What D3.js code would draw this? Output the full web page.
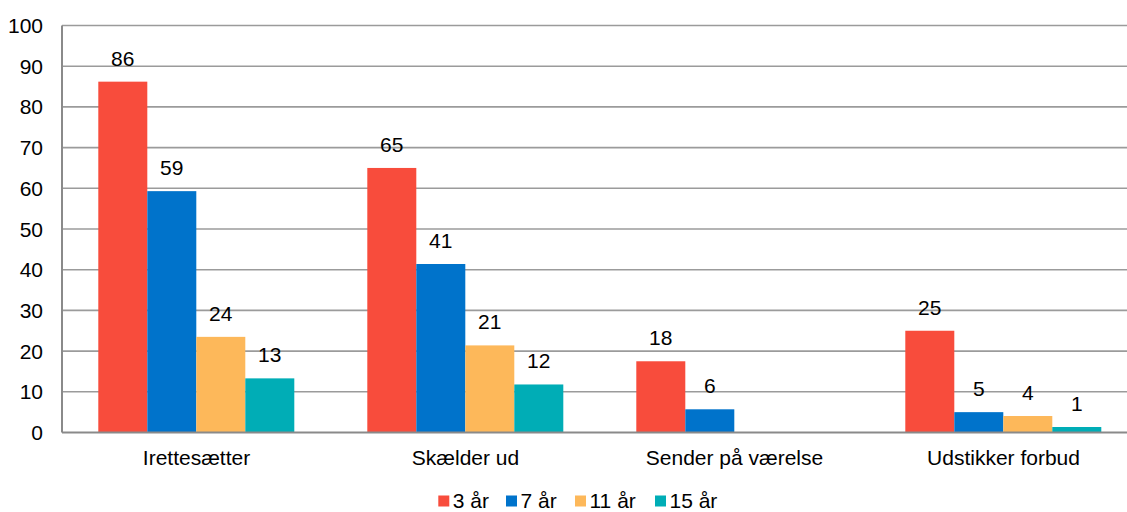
<!DOCTYPE html>
<html>
<head>
<meta charset="utf-8">
<script src="https://cdn.jsdelivr.net/npm/d3@7"></script>
<style>
  html, body { margin: 0; padding: 0; background: #fff; }
  svg { display: block; font-family: "Liberation Sans", Arial, sans-serif; }
</style>
</head>
<body>
<svg id="chart" width="1127" height="512"></svg>
<script>
const categories = ["Irettesætter", "Skælder ud", "Sender på værelse", "Udstikker forbud"];
const seriesNames = ["3 år", "7 år", "11 år", "15 år"];
const seriesColors = ["#F84C3C", "#0073CB", "#FDB85A", "#00ADB6"];
const values3 = [86.2, 65.0, 17.5, 25.0];
const values7 = [59.3, 41.4, 5.7, 5.0];
const values11 = [23.5, 21.4, null, 4.05];
const values15 = [13.3, 11.8, null, 1.35];
const yTicks = [0, 10, 20, 30, 40, 50, 60, 70, 80, 90, 100];

const seriesValues = [values3, values7, values11, values15];

const svg = d3.select("#chart");
const mLeft = 62, mTop = 25.5, mBottom = 432.5, band = 269;
const mRight = mLeft + band * categories.length;

const x = d3.scaleBand().domain(categories).range([mLeft, mRight]).padding(0);
const xs = d3.scaleBand().domain(seriesNames).range([36.3, 232.3]).padding(0);
const y = d3.scaleLinear().domain([0, 100]).range([mBottom, mTop]);

// gridlines
svg.append("g").selectAll("line").data(yTicks.filter(d => d > 0)).join("line")
  .attr("x1", mLeft).attr("x2", mRight)
  .attr("y1", d => y(d)).attr("y2", d => y(d))
  .attr("stroke", "#9b9b9b").attr("stroke-width", 1.6);

// y tick labels
svg.append("g").selectAll("text").data(yTicks).join("text")
  .attr("x", 43).attr("y", d => y(d))
  .attr("dy", "0.36em")
  .attr("text-anchor", "end")
  .attr("font-size", 21).attr("fill", "#000")
  .text(d => d);

// bars
const flat = [];
categories.forEach((c, i) => {
  seriesNames.forEach((s, j) => {
    const v = seriesValues[j][i];
    if (v !== null && v !== undefined) flat.push({ c, s, v, j });
  });
});

svg.append("g").selectAll("rect").data(flat).join("rect")
  .attr("x", d => x(d.c) + xs(d.s))
  .attr("width", xs.bandwidth())
  .attr("y", d => y(d.v))
  .attr("height", d => y(0) - y(d.v))
  .attr("fill", d => seriesColors[d.j]);

// value labels
svg.append("g").selectAll("text").data(flat).join("text")
  .attr("x", d => x(d.c) + xs(d.s) + xs.bandwidth() / 2)
  .attr("y", d => y(d.v) - 16)
  .attr("text-anchor", "middle")
  .attr("font-size", 21).attr("fill", "#000")
  .text(d => Math.round(d.v));

// axes lines
svg.append("line").attr("x1", mLeft).attr("x2", mLeft).attr("y1", mTop).attr("y2", mBottom)
  .attr("stroke", "#8a8a8a").attr("stroke-width", 2);
svg.append("line").attr("x1", mLeft).attr("x2", mRight).attr("y1", mBottom).attr("y2", mBottom)
  .attr("stroke", "#8a8a8a").attr("stroke-width", 2);

// category labels
svg.append("g").selectAll("text").data(categories).join("text")
  .attr("x", d => x(d) + x.bandwidth() / 2)
  .attr("y", 465)
  .attr("text-anchor", "middle")
  .attr("font-size", 21).attr("fill", "#000")
  .text(d => d);

// legend
const legendX = [438.3, 506, 575, 655];
const lg = svg.append("g").selectAll("g").data(seriesNames).join("g")
  .attr("transform", (d, i) => `translate(${legendX[i]},0)`);
lg.append("rect").attr("x", 0).attr("y", 495.5).attr("width", 11).attr("height", 11)
  .attr("fill", (d, i) => seriesColors[i]);
lg.append("text").attr("x", 14.5).attr("y", 507.5)
  .attr("font-size", 21).attr("fill", "#000")
  .text(d => d);
</script>
</body>
</html>
